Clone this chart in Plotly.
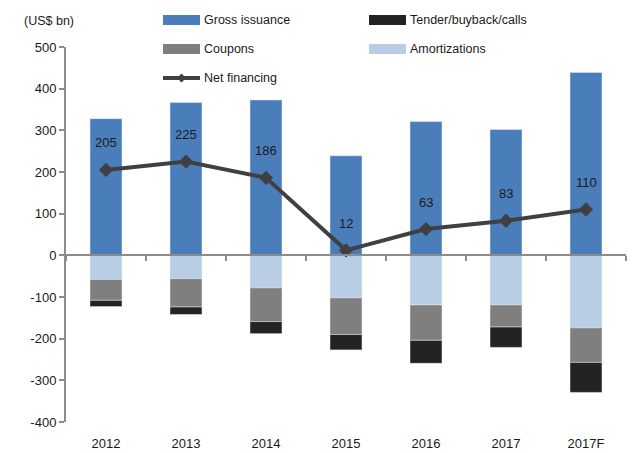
import plotly.graph_objects as go

# Annual financing flows (US$ bn); outflows are negative
years = ["2012", "2013", "2014", "2015", "2016", "2017", "2017F"]
gross_issuance = [328, 367, 373, 239, 321, 302, 439]
amortizations = [-58, -56, -78, -102, -119, -119, -174]
coupons = [-50, -68, -81, -88, -85, -53, -83]
tender_buyback_calls = [-15, -18, -29, -37, -55, -49, -72]
net_financing = [205, 225, 186, 12, 63, 83, 110]

y_ticks = [500, 400, 300, 200, 100, 0, -100, -200, -300, -400]

BLUE = "#4a7ebb"
LIGHT_BLUE = "#b9cde5"
GREY = "#7f7f7f"
BLACK = "#232323"
LINE = "#404040"
AXIS = "#8c8c8c"
FONT = "Liberation Sans, Arial, sans-serif"
FS = 13
FS_LEG = 12.5

W, H = 637, 453
M = dict(l=66, r=11, t=47, b=31)
PW, PH = W - M["l"] - M["r"], H - M["t"] - M["b"]


def px_x(px):
    return (px - M["l"]) / PW


def px_y(py):
    return (H - M["b"] - py) / PH


fig = go.Figure()
fig.add_trace(go.Bar(x=years, y=gross_issuance, name="Gross issuance",
                     marker_color=BLUE, showlegend=False))
fig.add_trace(go.Bar(x=years, y=amortizations, name="Amortizations",
                     marker_color=LIGHT_BLUE, showlegend=False))
fig.add_trace(go.Bar(x=years, y=coupons, name="Coupons",
                     marker_color=GREY, showlegend=False))
fig.add_trace(go.Bar(x=years, y=tender_buyback_calls, name="Tender/buyback/calls",
                     marker_color=BLACK, showlegend=False))
fig.add_trace(go.Scatter(x=years, y=net_financing, name="Net financing",
                         mode="lines+markers",
                         line=dict(color=LINE, width=4),
                         marker=dict(symbol="diamond", size=11, color=LINE),
                         showlegend=False))
# invisible carrier trace for the category axis drawn along zero
fig.add_trace(go.Scatter(x=years, y=[0] * len(years), xaxis="x2",
                         mode="markers", marker=dict(opacity=0),
                         showlegend=False, hoverinfo="skip"))

# value labels above the net financing points (category index positions)
for i, v in enumerate(net_financing):
    fig.add_annotation(x=i, y=v, text=str(v), showarrow=False, yshift=27,
                       font=dict(family=FONT, size=FS, color="#1a1a1a"))

ymin, ymax = y_ticks[-1], y_ticks[0]

fig.update_layout(
    width=W, height=H, margin=M,
    paper_bgcolor="white", plot_bgcolor="white",
    barmode="relative", bargap=0.6,
    font=dict(family=FONT, size=FS, color="#1a1a1a"),
    xaxis=dict(type="category", range=[-0.5, len(years) - 0.5],
               automargin=False,
               showline=False, showgrid=False, zeroline=False,
               ticks="outside", ticklen=9, tickcolor="rgba(0,0,0,0)",
               tickfont=dict(size=FS)),
    xaxis2=dict(type="category", overlaying="x", anchor="free",
                range=[-0.5, len(years) - 0.5], automargin=False,
                position=(0 - ymin) / (ymax - ymin),
                showline=True, linecolor=AXIS, linewidth=2,
                ticks="outside", ticklen=5, tickcolor=AXIS, tickwidth=1.5,
                tickson="boundaries", showticklabels=False,
                showgrid=False, zeroline=False),
    yaxis=dict(range=[ymin, ymax], tickvals=y_ticks, automargin=False,
               ticktext=[str(t) for t in y_ticks],
               showline=True, linecolor=AXIS, linewidth=2,
               ticks="outside", ticklen=5, tickcolor=AXIS, tickwidth=1.5,
               showgrid=False, zeroline=False, tickfont=dict(size=FS)),
)

# unit label
fig.add_annotation(xref="paper", yref="paper", x=px_x(22), y=px_y(21),
                   xanchor="left", yanchor="middle", text="(US$ bn)",
                   showarrow=False, font=dict(family=FONT, size=FS_LEG))

# legend drawn as swatches + labels
legend_items = [
    ("Gross issuance", BLUE, "box", 163, 20),
    ("Coupons", GREY, "box", 163, 49),
    ("Net financing", LINE, "line", 163, 78),
    ("Tender/buyback/calls", BLACK, "box", 369, 20),
    ("Amortizations", LIGHT_BLUE, "box", 369, 49),
]
for label, color, kind, x0, yc in legend_items:
    if kind == "box":
        fig.add_shape(type="rect", xref="paper", yref="paper",
                      x0=px_x(x0), x1=px_x(x0 + 37),
                      y0=px_y(yc + 5), y1=px_y(yc - 5),
                      fillcolor=color, line=dict(width=0))
    else:
        fig.add_shape(type="line", xref="paper", yref="paper",
                      x0=px_x(x0), x1=px_x(x0 + 37), y0=px_y(yc), y1=px_y(yc),
                      line=dict(color=color, width=4))
        cx, r = x0 + 18.5, 4.5
        pts = [(cx, yc - r), (cx + r, yc), (cx, yc + r), (cx - r, yc)]
        path = "M " + " L ".join(f"{px_x(a):.5f},{px_y(b):.5f}" for a, b in pts) + " Z"
        fig.add_shape(type="path", xref="paper", yref="paper", path=path,
                      fillcolor=color, line=dict(width=0))
    fig.add_annotation(xref="paper", yref="paper", x=px_x(x0 + 39), y=px_y(yc),
                       xanchor="left", yanchor="middle", text=label,
                       showarrow=False, font=dict(family=FONT, size=FS_LEG))

fig.write_html("out.html")
